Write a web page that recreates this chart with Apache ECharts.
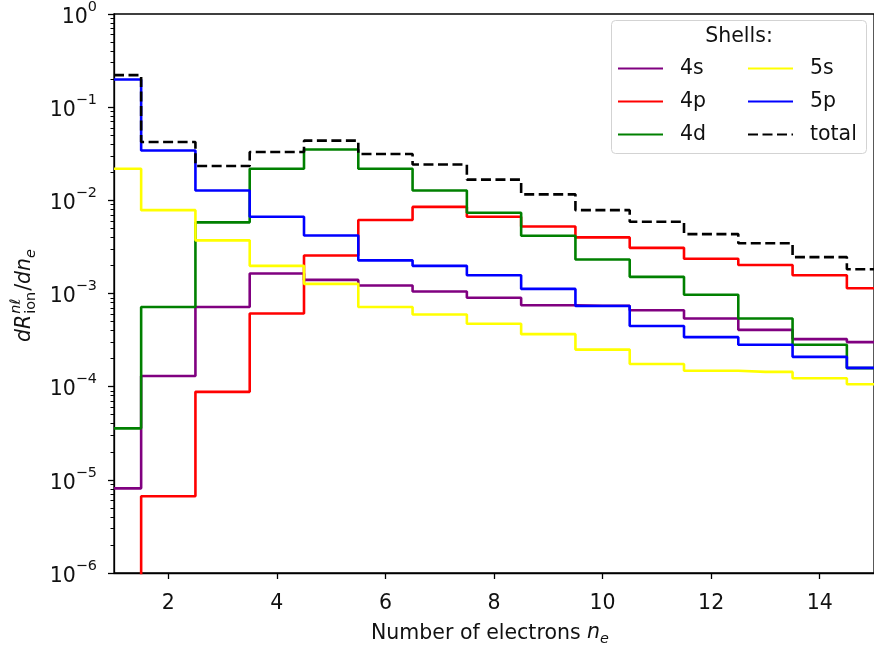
<!DOCTYPE html>
<html>
<head>
<meta charset="utf-8">
<script src="https://cdn.jsdelivr.net/npm/echarts@6/dist/echarts.min.js"></script>
<style>
  html, body { margin: 0; padding: 0; background: #fff; }
  #chart { width: 874px; height: 651px; }
</style>
</head>
<body>
<div id="chart"></div>
<script>
// Number of electrons per ionisation event
const ne = [1, 2, 3, 4, 5, 6, 7, 8, 9, 10, 11, 12, 13, 14, 15];

// Differential ionisation rate per shell, dR/dn_e
const shell4s = [8.1e-6, 1.3e-4, 7.16e-4, 1.64e-3, 1.40e-3, 1.22e-3, 1.05e-3, 9.0e-4, 7.47e-4, 7.4e-4, 6.62e-4, 5.4e-4, 4.07e-4, 3.24e-4, 3.01e-4];
const shell4p = [1e-8, 6.67e-6, 8.8e-5, 6.1e-4, 2.56e-3, 6.15e-3, 8.5e-3, 6.67e-3, 5.23e-3, 4.0e-3, 3.09e-3, 2.36e-3, 2.02e-3, 1.57e-3, 1.14e-3];
const shell4d = [3.57e-5, 7.16e-4, 5.8e-3, 2.18e-2, 3.51e-2, 2.18e-2, 1.276e-2, 7.35e-3, 4.17e-3, 2.32e-3, 1.51e-3, 9.68e-4, 5.4e-4, 2.82e-4, 1.58e-4];
const shell5s = [2.18e-2, 7.85e-3, 3.72e-3, 1.98e-3, 1.27e-3, 7.16e-4, 5.96e-4, 4.74e-4, 3.66e-4, 2.5e-4, 1.75e-4, 1.48e-4, 1.44e-4, 1.23e-4, 1.06e-4];
const shell5p = [1.98e-1, 3.43e-2, 1.276e-2, 6.67e-3, 4.2e-3, 2.27e-3, 1.98e-3, 1.57e-3, 1.12e-3, 7.34e-4, 4.48e-4, 3.4e-4, 2.82e-4, 2.09e-4, 1.59e-4];
const shellTotal = [2.21e-1, 4.23e-2, 2.34e-2, 3.3e-2, 4.37e-2, 3.14e-2, 2.42e-2, 1.67e-2, 1.16e-2, 7.85e-3, 5.9e-3, 4.34e-3, 3.46e-3, 2.46e-3, 1.82e-3];

// Tick positions
const xTicks = [2, 4, 6, 8, 10, 12, 14];
const yDecades = [1e-6, 1e-5, 1e-4, 1e-3, 1e-2, 1e-1, 1];

const FONT = 'DejaVu Sans';
const FS = 20.5;
const SS = 14.4;
const TXT = '#111';

// minor ticks at 2..9 within each decade
const yMinor = [];
for (let d = 0; d < yDecades.length - 1; d++) {
  for (let k = 2; k <= 9; k++) yMinor.push(yDecades[d] * k);
}

function pairs(ys) { return ne.map((x, i) => [x, ys[i]]); }

function supLabel(v) {
  const e = Math.round(Math.log10(v));
  const s = e < 0 ? '\u2212' + (-e) : String(e);
  return '{b|10}{s|' + s + '}';
}

const chart = echarts.init(document.getElementById('chart'), null, { renderer: 'canvas' });

const W = 2.6;
function stepSeries(name, ys, color, dashed) {
  return {
    name: name,
    type: 'line',
    step: 'middle',
    data: pairs(ys),
    symbol: 'none',
    showSymbol: false,
    clip: true,
    lineStyle: { color: color, width: W, type: dashed ? [10, 4.5] : 'solid' },
    itemStyle: { color: color },
    emphasis: { disabled: true }
  };
}

// text width helper for the stacked y-axis title
const mctx = document.createElement('canvas').getContext('2d');
function tw(text, size, italic) {
  mctx.font = (italic ? 'italic ' : '') + size + 'px "' + FONT + '"';
  return mctx.measureText(text).width;
}

const yTitle = (function () {
  const kids = [];
  let x = 0;
  function add(text, size, italic, dy) {
    kids.push({
      type: 'text', x: x, y: dy,
      style: { text: text, font: (italic ? 'italic ' : '') + size + 'px "' + FONT + '"', fill: TXT, verticalAlign: 'middle', align: 'left' }
    });
    return tw(text, size, italic);
  }
  x += add('dR', FS, true, 0) + 1;
  const w1 = add('n\u2113', SS, true, -9);
  const w2 = add('ion', SS, false, 6);
  x += Math.max(w1, w2) + 1;
  x += add('/', FS, false, 0);
  x += add('dn', FS, true, 0);
  add('e', SS, true, 6);
  return { type: 'group', x: 25, y: 342, rotation: Math.PI / 2, children: kids, z: 50 };
})();

const legendBase = {
  orient: 'vertical', top: 58, padding: 0,
  itemWidth: 45, itemHeight: 14, itemGap: 12,
  itemStyle: { opacity: 0, borderWidth: 0 },
  textStyle: { fontFamily: FONT, fontSize: FS, color: TXT, lineHeight: 20, padding: [0, 0, 0, 12] },
  selectedMode: false, z: 30
};

const option = {
  animation: false,
  backgroundColor: '#fff',
  grid: {
    left: 114, top: 9, width: 764, height: 568,
    show: true, borderColor: '#000', borderWidth: 1.3, backgroundColor: 'transparent'
  },
  xAxis: {
    type: 'value', min: 1, max: 15,
    axisLine: { show: true, onZero: false, lineStyle: { color: '#000', width: 1.3 } },
    axisTick: { show: true, customValues: xTicks, length: 6, lineStyle: { color: '#000', width: 1.3 } },
    axisLabel: { show: true, customValues: xTicks, margin: 20, fontFamily: FONT, fontSize: FS, color: TXT },
    splitLine: { show: false },
    name: '{r|Number of electrons }{i|n}{sub|e}',
    nameLocation: 'middle',
    nameGap: 50,
    nameTextStyle: {
      padding: [0, 8, 0, 0],
      rich: {
        r: { fontFamily: FONT, fontSize: FS, color: TXT, lineHeight: 23, verticalAlign: 'top' },
        i: { fontFamily: FONT, fontSize: FS, fontStyle: 'italic', color: TXT, lineHeight: 23, verticalAlign: 'top' },
        sub: { fontFamily: FONT, fontSize: SS, fontStyle: 'italic', color: TXT, lineHeight: 13, verticalAlign: 'bottom' }
      }
    }
  },
  yAxis: [
    {
      type: 'log', logBase: 10, min: 1e-6, max: 1,
      axisLine: { show: true, lineStyle: { color: '#000', width: 1.3 } },
      axisTick: { show: true, customValues: yDecades, length: 6, lineStyle: { color: '#000', width: 1.3 } },
      axisLabel: {
        show: true, customValues: yDecades, margin: 17,
        formatter: supLabel,
        rich: {
          b: { fontFamily: FONT, fontSize: FS, color: TXT, lineHeight: 28, verticalAlign: 'bottom' },
          s: { fontFamily: FONT, fontSize: SS, color: TXT, lineHeight: 14, verticalAlign: 'top' }
        }
      },
      splitLine: { show: false },
      minorTick: { show: false }
    },
    {
      type: 'log', logBase: 10, min: 1e-6, max: 1, position: 'left',
      axisLine: { show: false },
      axisTick: { show: true, customValues: yMinor, length: 3.5, lineStyle: { color: '#000', width: 1 } },
      axisLabel: { show: false },
      splitLine: { show: false }
    }
  ],
  legend: [
    Object.assign({}, legendBase, { data: ['4s', '4p', '4d'], left: 617 }),
    Object.assign({}, legendBase, { data: ['5s', '5p', 'total'], left: 747 })
  ],
  graphic: [
    {
      type: 'rect', z: 20,
      shape: { x: 611.5, y: 20.5, width: 255, height: 133, r: 4 },
      style: { fill: 'rgba(255,255,255,0.85)', stroke: '#d3d3d3', lineWidth: 1 }
    },
    {
      type: 'text', z: 30, x: 739, y: 37,
      style: { text: 'Shells:', font: FS + 'px "' + FONT + '"', fill: TXT, align: 'center', verticalAlign: 'middle' }
    },
    yTitle
  ],
  series: [
    stepSeries('4s', shell4s, '#800080', false),
    stepSeries('4p', shell4p, '#ff0000', false),
    stepSeries('4d', shell4d, '#008000', false),
    stepSeries('5s', shell5s, '#ffff00', false),
    stepSeries('5p', shell5p, '#0000ff', false),
    stepSeries('total', shellTotal, '#000000', true)
  ]
};

chart.setOption(option);
</script>
</body>
</html>
